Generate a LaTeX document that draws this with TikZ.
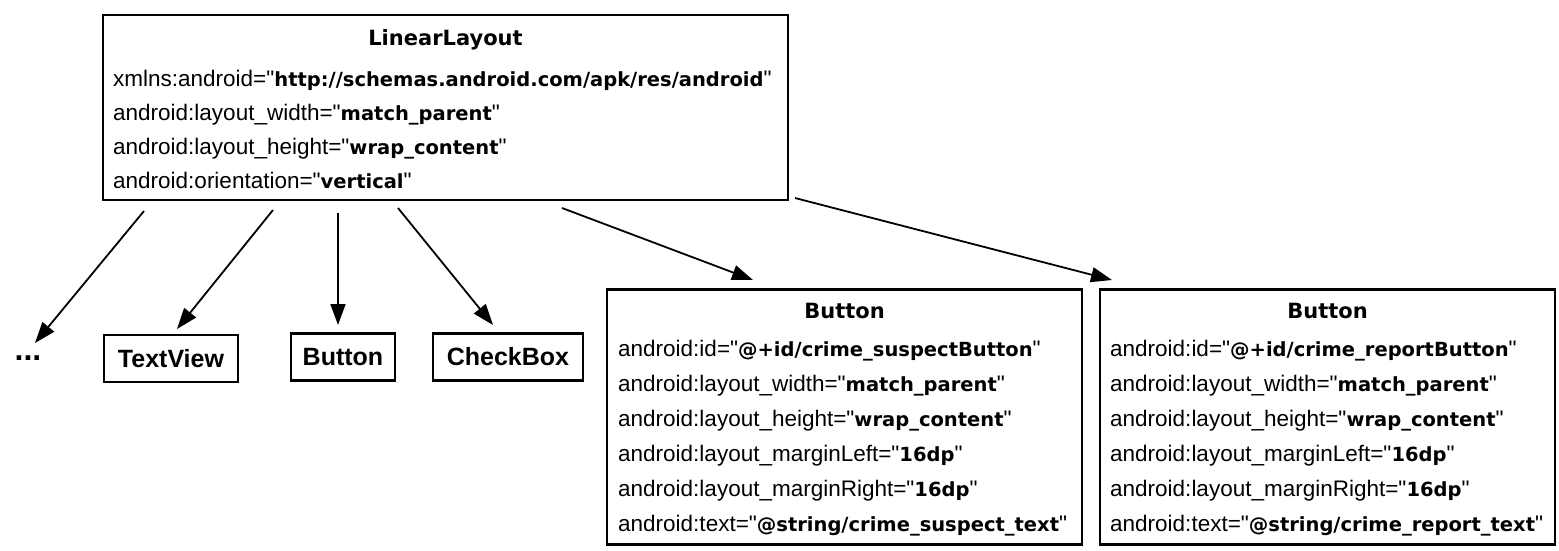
\documentclass[tikz,border=0pt]{standalone}
\usepackage{fontspec}
\setmainfont{Liberation Sans}
\newfontfamily\dvfont{DejaVu Sans}
\usetikzlibrary{arrows.meta}
\newcommand\attrval[1]{{\dvfont\bfseries\fontsize{19.5}{22}\selectfont #1}}
\newcommand\qq{\textquotedbl}
\begin{document}
\begin{tikzpicture}[x=1pt,y=-1pt,
  box/.style={draw, line width=2.8pt, inner sep=0pt, outer sep=0pt},
  smallbox/.style={box, font=\fontsize{25}{28}\selectfont\bfseries, minimum height=47pt},
  attr/.style={inner sep=0pt, anchor=base west, font=\fontsize{22.5}{24}\selectfont},
  ttl/.style={inner sep=0pt, anchor=base, font=\dvfont\bfseries\fontsize{21}{24}\selectfont},
  conn/.style={line width=1.8pt, -{Triangle[length=21pt,width=15pt]}}]
\useasboundingbox (0,0) rectangle (1559,550);

% LinearLayout
\node[box, anchor=north west, minimum width=685pt, minimum height=185pt] (ll) at (103,15) {};
\node[ttl] (llt) at (445.5,45) {LinearLayout};
\node[attr] (ll1) at (113,86) {xmlns:android=\qq\attrval{http://schemas.android.com/apk/res/android}\qq};
\node[attr] (ll2) at (113,120) {android:layout\_width=\qq\attrval{match\_parent}\qq};
\node[attr] (ll3) at (113,154) {android:layout\_height=\qq\attrval{wrap\_content}\qq};
\node[attr] (ll4) at (113,188) {android:orientation=\qq\attrval{vertical}\qq};

% small children
\node[inner sep=0pt, font=\fontsize{32}{34}\selectfont\bfseries] (dots) at (28,358) {...};
\node[smallbox, minimum width=134pt] (tv) at (171,358.5) {TextView};
\node[smallbox, minimum width=104pt] (btn) at (343,357) {Button};
\node[smallbox, minimum width=150pt] (cb) at (508,357) {CheckBox};

% Button 1
\node[box, anchor=north west, minimum width=475pt, minimum height=255pt] (b1) at (607,289.5) {};
\node[ttl] (b1t) at (844.5,318) {Button};
\node[attr] (b1a) at (618,356) {android:id=\qq\attrval{@+id/crime\_suspectButton}\qq};
\node[attr] (b1b) at (618,391) {android:layout\_width=\qq\attrval{match\_parent}\qq};
\node[attr] (b1c) at (618,426) {android:layout\_height=\qq\attrval{wrap\_content}\qq};
\node[attr] (b1d) at (618,461) {android:layout\_marginLeft=\qq\attrval{16dp}\qq};
\node[attr] (b1e) at (618,496) {android:layout\_marginRight=\qq\attrval{16dp}\qq};
\node[attr] (b1f) at (618,531) {android:text=\qq\attrval{@string/crime\_suspect\_text}\qq};

% Button 2
\node[box, anchor=north west, minimum width=455pt, minimum height=255pt] (b2) at (1100,289.5) {};
\node[ttl] (b2t) at (1327.5,318) {Button};
\node[attr] (b2a) at (1110,356) {android:id=\qq\attrval{@+id/crime\_reportButton}\qq};
\node[attr] (b2b) at (1110,391) {android:layout\_width=\qq\attrval{match\_parent}\qq};
\node[attr] (b2c) at (1110,426) {android:layout\_height=\qq\attrval{wrap\_content}\qq};
\node[attr] (b2d) at (1110,461) {android:layout\_marginLeft=\qq\attrval{16dp}\qq};
\node[attr] (b2e) at (1110,496) {android:layout\_marginRight=\qq\attrval{16dp}\qq};
\node[attr] (b2f) at (1110,531) {android:text=\qq\attrval{@string/crime\_report\_text}\qq};

% connectors
\coordinate (s1) at (144,211); \coordinate (e1) at (35,343);
\coordinate (s2) at (273,210); \coordinate (e2) at (177,329);
\coordinate (s3) at (338,213); \coordinate (e3) at (338,325);
\coordinate (s4) at (398,208); \coordinate (e4) at (493,325);
\coordinate (s5) at (562,208); \coordinate (e5) at (753,280);
\coordinate (s6) at (795,198); \coordinate (e6) at (1112,280);
\draw[conn] (s1) -- (e1);
\draw[conn] (s2) -- (e2);
\draw[conn] (s3) -- (e3);
\draw[conn] (s4) -- (e4);
\draw[conn] (s5) -- (e5);
\draw[conn] (s6) -- (e6);
\end{tikzpicture}
\end{document}
